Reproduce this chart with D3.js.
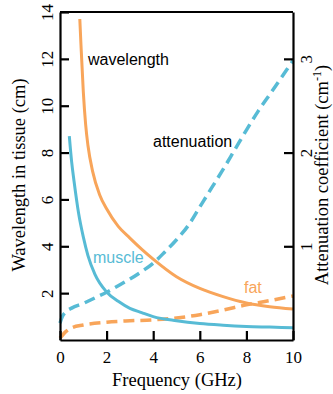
<!DOCTYPE html>
<html>
<head>
<meta charset="utf-8">
<script src="https://cdn.jsdelivr.net/npm/d3@7"></script>
<style>
  body { margin: 0; background: white; }
  svg { display: block; }
</style>
</head>
<body>
<svg id="chart"></svg>
<script>
var width = 333, height = 394

// frequency (GHz) and values
var muscleWaveF = [0.4, 0.5, 0.6, 0.8, 1.0, 1.2, 1.5, 2.0, 2.5, 3.0, 3.5, 4.0, 5.0, 6.0, 7.0, 8.0, 9.0, 10.0]
var muscleWave  = [8.7, 7.6, 6.8, 5.4, 4.4, 3.6, 2.8, 2.05, 1.65, 1.35, 1.17, 1.0, 0.82, 0.70, 0.63, 0.58, 0.55, 0.52]

var fatWaveF = [0.85, 0.9, 1.0, 1.1, 1.2, 1.4, 1.7, 2.0, 2.5, 3.0, 3.5, 4.0, 5.0, 6.0, 7.0, 8.0, 9.0, 10.0]
var fatWave  = [13.7, 12.6, 10.6, 9.2, 8.3, 7.2, 6.2, 5.6, 4.85, 4.35, 3.88, 3.45, 2.7, 2.2, 1.85, 1.58, 1.42, 1.32]

var muscleAttF = [0, 0.1, 0.25, 0.5, 1.0, 1.5, 2.0, 2.5, 3.0, 3.5, 4.0, 4.5, 5.0, 5.5, 6.0, 6.5, 7.0, 7.5, 8.0, 8.5, 9.0, 9.5, 10.0]
var muscleAtt  = [0.18, 0.25, 0.30, 0.34, 0.39, 0.45, 0.51, 0.58, 0.65, 0.73, 0.82, 0.94, 1.07, 1.22, 1.42, 1.62, 1.82, 2.03, 2.24, 2.44, 2.62, 2.8, 2.98]

var fatAttF = [0, 0.25, 0.5, 1, 2, 3, 4, 5, 6, 7, 8, 9, 10]
var fatAtt  = [0.02, 0.09, 0.13, 0.16, 0.19, 0.205, 0.215, 0.235, 0.27, 0.32, 0.375, 0.42, 0.47]

var xTicks = [0, 2, 4, 6, 8, 10]
var leftTicks = [2, 4, 6, 8, 10, 12, 14]
var rightTicks = [1, 2, 3]

var blue = "#57bbd5", orange = "#f8a55a"
var serif = "'Liberation Serif', 'Times New Roman', serif"
var sans = "'Liberation Sans', Arial, sans-serif"

var svg = d3.select("#chart")
    .attr("width", width)
    .attr("height", height)

var x = d3.scaleLinear().domain([0, 10]).range([60, 293])
var yL = d3.scaleLinear().domain([0, 14]).range([340, 12])
var yR = d3.scaleLinear().domain([0, 3.5]).range([340, 12])

function zip(a, b) {
    return a.map(function(d, i) { return [d, b[i]] })
}

var lineL = d3.line()
    .x(function(d) { return x(d[0]) })
    .y(function(d) { return yL(d[1]) })
    .curve(d3.curveMonotoneX)
var lineR = d3.line()
    .x(function(d) { return x(d[0]) })
    .y(function(d) { return yR(d[1]) })
    .curve(d3.curveMonotoneX)

// curves
svg.append("path").datum(zip(fatAttF, fatAtt))
    .attr("d", lineR).attr("fill", "none")
    .attr("stroke", orange).attr("stroke-width", 3.5)
    .attr("stroke-dasharray", "11,6")
svg.append("path").datum(zip(muscleAttF, muscleAtt))
    .attr("d", lineR).attr("fill", "none")
    .attr("stroke", blue).attr("stroke-width", 3.5)
    .attr("stroke-dasharray", "11,6")
svg.append("path").datum(zip(fatWaveF, fatWave))
    .attr("d", lineL).attr("fill", "none")
    .attr("stroke", orange).attr("stroke-width", 3)
svg.append("path").datum(zip(muscleWaveF, muscleWave))
    .attr("d", lineL).attr("fill", "none")
    .attr("stroke", blue).attr("stroke-width", 3)

// axes
function styleAxis(g) {
    g.selectAll(".domain").attr("stroke", "black").attr("stroke-width", 2.2)
    g.selectAll(".tick line").attr("stroke", "black").attr("stroke-width", 2.2)
    g.selectAll("text").attr("font-family", serif).attr("font-size", 17).attr("fill", "black")
}

var gx = svg.append("g")
    .attr("transform", "translate(0,340)")
    .call(d3.axisBottom(x).tickValues(xTicks).tickFormat(d3.format("d")).tickSize(-9).tickSizeOuter(0))
styleAxis(gx)
gx.selectAll("text").attr("y", 23).attr("dy", 0)

var gl = svg.append("g")
    .attr("transform", "translate(60,0)")
    .call(d3.axisLeft(yL).tickValues(leftTicks).tickFormat(d3.format("d")).tickSize(-9).tickSizeOuter(0))
styleAxis(gl)
gl.selectAll("text")
    .attr("x", 0).attr("y", 0).attr("dy", 0)
    .attr("text-anchor", "middle")
    .attr("transform", "translate(-7,0) rotate(-90)")

var gr = svg.append("g")
    .attr("transform", "translate(293,0)")
    .call(d3.axisRight(yR).tickValues(rightTicks).tickFormat(d3.format("d")).tickSize(-9).tickSizeOuter(0))
styleAxis(gr)
gr.selectAll("text")
    .attr("x", 0).attr("y", 0).attr("dy", 0)
    .attr("text-anchor", "middle")
    .attr("transform", "translate(19,0) rotate(-90)")

// top border
svg.append("line")
    .attr("x1", x(0)).attr("x2", x(10))
    .attr("y1", yL(14)).attr("y2", yL(14))
    .attr("stroke", "black").attr("stroke-width", 2.2)

// axis titles
svg.append("text")
    .attr("x", 177).attr("y", 386)
    .attr("text-anchor", "middle")
    .attr("font-family", serif).attr("font-size", 18.5)
    .text("Frequency (GHz)")

svg.append("text")
    .attr("transform", "translate(25,175) rotate(-90)")
    .attr("text-anchor", "middle")
    .attr("font-family", serif).attr("font-size", 18.5)
    .text("Wavelength in tissue (cm)")

var rt = svg.append("text")
    .attr("transform", "translate(328,175) rotate(-90)")
    .attr("text-anchor", "middle")
    .attr("font-family", serif).attr("font-size", 18.5)
rt.append("tspan").text("Attenuation coefficient (cm")
rt.append("tspan").attr("font-size", 12).attr("dy", -7).text("-1")
rt.append("tspan").attr("dy", 7).text(")")

// annotations
svg.append("text").attr("x", 88).attr("y", 65)
    .attr("font-family", sans).attr("font-size", 16).attr("fill", "black")
    .text("wavelength")
svg.append("text").attr("x", 153).attr("y", 147)
    .attr("font-family", sans).attr("font-size", 16).attr("fill", "black")
    .text("attenuation")
svg.append("text").attr("x", 93).attr("y", 263)
    .attr("font-family", sans).attr("font-size", 16).attr("fill", blue)
    .text("muscle")
svg.append("text").attr("x", 244).attr("y", 293)
    .attr("font-family", sans).attr("font-size", 16).attr("fill", orange)
    .text("fat")
</script>
</body>
</html>
